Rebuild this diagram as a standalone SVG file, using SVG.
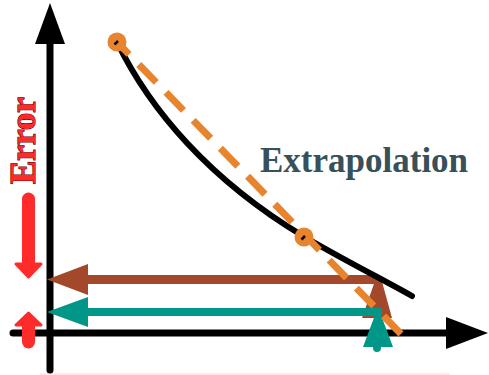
<svg xmlns="http://www.w3.org/2000/svg" width="489" height="375" viewBox="0 0 489 375">
<style>
.axis{stroke:#000;stroke-width:7;fill:none}
.head{fill:#000}
.lbl{font-family:"Liberation Serif","Times New Roman",serif;font-weight:bold;font-size:35px}
.red{fill:#ff2a2a;stroke:#ff2a2a;stroke-linejoin:round}
.pt{fill:#e8832e}
</style>
<rect width="489" height="375" fill="#fff"/>
<g id="axes">
<line x1="40" y1="374" x2="450" y2="374" stroke="#ffd0d0" stroke-width="1"/>
<line class="axis" x1="50" y1="370" x2="50" y2="40" stroke-linecap="round"/>
<polygon class="head" points="35,44 50,3 65,44"/>
<line class="axis" x1="13" y1="333" x2="450" y2="333" stroke-linecap="round"/>
<polygon class="head" points="446,317 488,333 446,349"/>
</g>
<g id="error-label">
<text class="lbl" transform="translate(35,184) rotate(-90)" fill="#ff2a2a" stroke="#6a0000" stroke-width="1.2" paint-order="stroke">Error</text>
</g>
<g id="red-arrows">
<line x1="28.5" y1="199" x2="28.5" y2="266" stroke="#ff2a2a" stroke-width="13" stroke-linecap="round"/>
<polygon class="red" stroke-width="3" points="16,264 41,264 28.5,277"/>
<line x1="28.5" y1="322" x2="28.5" y2="342" stroke="#ff2a2a" stroke-width="13" stroke-linecap="round"/>
<polygon class="red" stroke-width="3" points="16,325 41,325 28.5,313"/>
</g>
<g id="connectors">
<polygon fill="#a3482a" points="376,278 381,278 392,318 362,318"/>
<line x1="86" y1="279.5" x2="378" y2="279.5" stroke="#a3482a" stroke-width="9"/>
<polygon fill="#a3482a" points="47,279.5 88,264 88,295"/>
<path d="M117,42 C150,110 210,180 303,236 C340,258 380,278 412,296" fill="none" stroke="#000" stroke-width="6" stroke-linecap="round"/>
<line x1="86" y1="312" x2="382" y2="312" stroke="#009688" stroke-width="8"/>
<line x1="378" y1="312" x2="378" y2="345" stroke="#009688" stroke-width="7"/>
<polygon fill="#009688" points="47,312 88,297 88,327"/>
<polygon fill="#009688" points="378,307 363,347 393,347"/>
<circle cx="377" cy="348" r="4" fill="#009688"/>
<line x1="117" y1="42" x2="401" y2="334" stroke="#e8832e" stroke-width="7" stroke-dasharray="25 14" stroke-dashoffset="7.7"/>
</g>
<g id="point-1">
<circle class="pt" cx="117" cy="42" r="9.5"/>
<line x1="114.5" y1="44.5" x2="118" y2="41" stroke="#000" stroke-width="2.5"/>
</g>
<g id="point-2">
<circle class="pt" cx="304" cy="237" r="9.5"/>
<line x1="301.5" y1="239.5" x2="305" y2="236" stroke="#000" stroke-width="2.5"/>
</g>
<g id="extrapolation-label">
<text class="lbl" x="260" y="172" fill="#37505a">Extrapolation</text>
</g>
</svg>
